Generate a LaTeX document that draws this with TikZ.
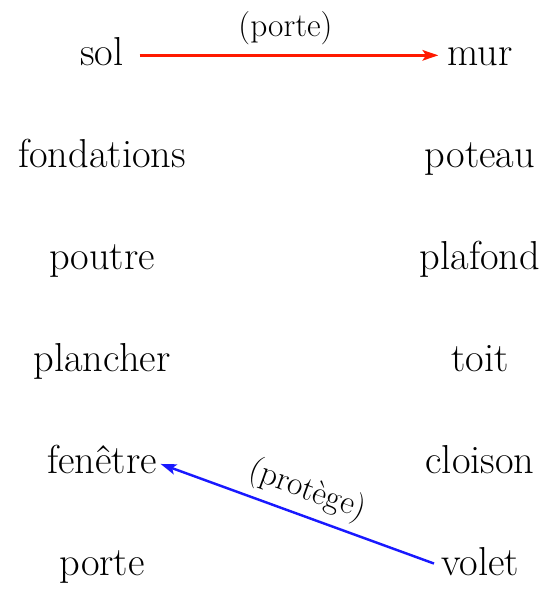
\documentclass[tikz,border=0pt]{standalone}
\usetikzlibrary{arrows.meta}

\begin{document}
\begin{tikzpicture}[x=0.02cm, y=-0.02cm,
		mot/.style={anchor=base, inner sep=1pt, text height=16pt, text depth=5pt, font=\fontsize{23}{27}\selectfont},
		glose/.style={font=\fontsize{19}{23}\selectfont, inner sep=2pt},
		fleche/.style={-{Stealth[length=9pt, width=6pt, inset=2pt]}, line width=1.4pt}]
				\useasboundingbox (0,0) rectangle (548,589);
				\foreach \nom/\texte/\y in {sol/sol/65, fondations/fondations/167, poutre/poutre/269, plancher/plancher/371, fenetre/fenêtre/473, porte/porte/575} {
					\node[mot] (\nom) at (102,\y) {\texte};
				}
				\foreach \nom/\y in {mur/65, poteau/167, plafond/269, toit/371, cloison/473, volet/575} {
					\node[mot] (\nom) at (480,\y) {\nom};
				}
				\draw[fleche, red!80!orange, shorten <=8pt, shorten >=4pt] (sol) -- (mur) node[glose, black, midway, above=3pt] {(porte)};
				\draw[fleche, blue!90!white, shorten <=3pt, shorten >=1pt] (volet.west) -- (fenetre.east) node[glose, black, midway, sloped, above=2pt] {(protège)};
			\end{tikzpicture}
\end{document}
